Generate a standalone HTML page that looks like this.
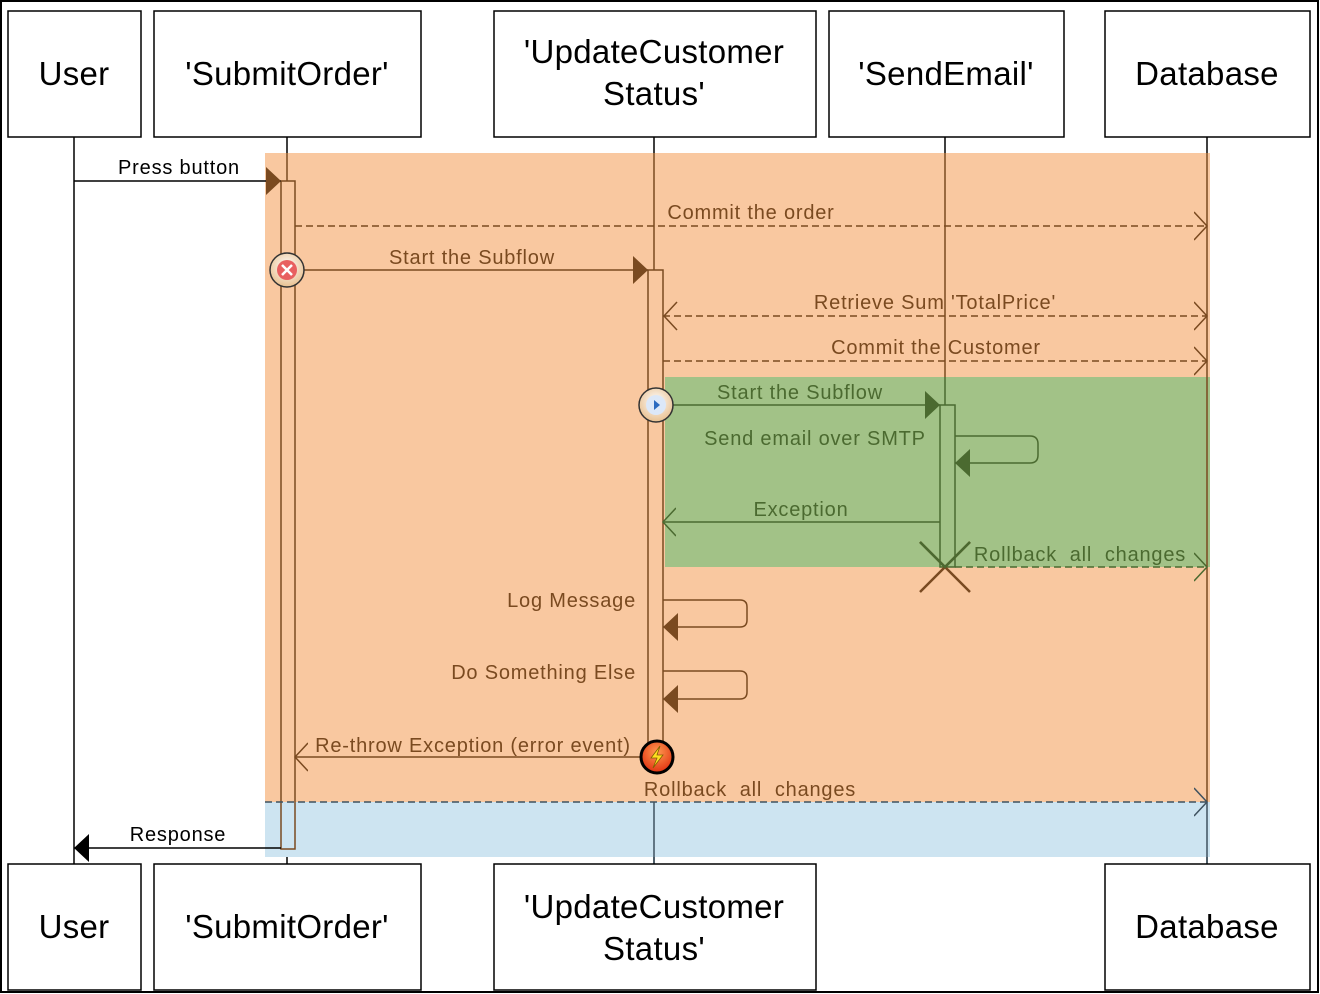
<!DOCTYPE html>
<html><head><meta charset="utf-8"><style>
html,body{margin:0;padding:0;background:#fff}
svg{display:block}
text{font-family:"Liberation Sans",sans-serif}
</style></head><body>
<svg width="1320" height="994" viewBox="0 0 1320 994" xmlns="http://www.w3.org/2000/svg">
<defs>
<marker id="fb" markerWidth="15" markerHeight="28" refX="15" refY="14" orient="auto" markerUnits="userSpaceOnUse"><path d="M0,0 L15,14 L0,28 Z" fill="#7a4a20"/></marker>
<marker id="fg" markerWidth="15" markerHeight="28" refX="15" refY="14" orient="auto" markerUnits="userSpaceOnUse"><path d="M0,0 L15,14 L0,28 Z" fill="#4b6a30"/></marker>
<marker id="fk" markerWidth="15" markerHeight="28" refX="15" refY="14" orient="auto" markerUnits="userSpaceOnUse"><path d="M0,0 L15,14 L0,28 Z" fill="#000"/></marker>
<marker id="ob" markerWidth="14" markerHeight="30" refX="13" refY="15" orient="auto" markerUnits="userSpaceOnUse"><path d="M0,1 L13,15 L0,29" fill="none" stroke="#7a4a20" stroke-width="1.5"/></marker>
<marker id="og" markerWidth="14" markerHeight="30" refX="13" refY="15" orient="auto" markerUnits="userSpaceOnUse"><path d="M0,1 L13,15 L0,29" fill="none" stroke="#4b6a30" stroke-width="1.5"/></marker>
<marker id="os" markerWidth="14" markerHeight="30" refX="13" refY="15" orient="auto" markerUnits="userSpaceOnUse"><path d="M0,1 L13,15 L0,29" fill="none" stroke="#3f5260" stroke-width="1.5"/></marker>
<radialGradient id="ic" cx="50%" cy="40%" r="60%"><stop offset="0" stop-color="#fff"/><stop offset="1" stop-color="#e8c090"/></radialGradient>
<radialGradient id="lr" cx="50%" cy="35%" r="65%"><stop offset="0" stop-color="#ff9a50"/><stop offset="1" stop-color="#e03010"/></radialGradient>
</defs>
<rect x="1" y="1" width="1317" height="991" fill="#fff" stroke="#000" stroke-width="2"/>
<g stroke="#000" stroke-width="1.5">
<line x1="74" y1="137" x2="74" y2="864"/>
<line x1="287" y1="137" x2="287" y2="864"/>
<line x1="654" y1="137" x2="654" y2="864"/>
<line x1="945" y1="137" x2="945" y2="567"/>
<line x1="1207" y1="137" x2="1207" y2="864"/>
</g>
<rect x="265" y="153" width="945" height="649" fill="#f9c8a0"/>
<rect x="265" y="802" width="945" height="55" fill="#cde4f1"/>
<rect x="665" y="377" width="545" height="190" fill="#a2c287"/>
<g stroke="#7a4a20" stroke-width="1.5">
<line x1="287" y1="153" x2="287" y2="181"/>
<line x1="654" y1="153" x2="654" y2="270"/>
<line x1="945" y1="153" x2="945" y2="377"/>
<line x1="1207" y1="153" x2="1207" y2="802"/>
</g>
<g stroke="#4b6a30" stroke-width="1.5"><line x1="945" y1="377" x2="945" y2="405"/></g>
<g stroke="#3f5260" stroke-width="1.5"><line x1="654" y1="802" x2="654" y2="864"/><line x1="1207" y1="802" x2="1207" y2="864"/></g>
<rect x="281" y="181" width="14" height="668" fill="none" stroke="#7a4a20" stroke-width="1.5"/>
<rect x="648" y="270" width="15" height="475" fill="none" stroke="#7a4a20" stroke-width="1.5"/>
<rect x="940" y="405" width="15" height="162" fill="none" stroke="#4b6a30" stroke-width="1.5"/>
<line x1="74" y1="181" x2="281" y2="181" stroke="#000" stroke-width="1.5" marker-end="url(#fb)"/>
<line x1="295" y1="226" x2="1207" y2="226" stroke="#7a4a20" stroke-width="1.5" stroke-dasharray="7,4" marker-end="url(#ob)"/>
<line x1="287" y1="270" x2="648" y2="270" stroke="#7a4a20" stroke-width="1.5" marker-end="url(#fb)"/>
<line x1="663" y1="316" x2="1207" y2="316" stroke="#7a4a20" stroke-width="1.5" stroke-dasharray="7,4" marker-end="url(#ob)"/>
<path d="M677,302 L664,316 L677,330" fill="none" stroke="#7a4a20" stroke-width="1.5"/>
<line x1="663" y1="361" x2="1207" y2="361" stroke="#7a4a20" stroke-width="1.5" stroke-dasharray="7,4" marker-end="url(#ob)"/>
<line x1="656" y1="405" x2="940" y2="405" stroke="#4b6a30" stroke-width="1.5" marker-end="url(#fg)"/>
<path d="M955,436 H1030 Q1038,436 1038,444 V455 Q1038,463 1030,463 H955" fill="none" stroke="#4b6a30" stroke-width="1.5" marker-end="url(#fg)"/>
<line x1="940" y1="522" x2="663" y2="522" stroke="#4b6a30" stroke-width="1.5" marker-end="url(#og)"/>
<line x1="955" y1="567" x2="1207" y2="567" stroke="#4b6a30" stroke-width="1.5" stroke-dasharray="7,4" marker-end="url(#og)"/>
<path d="M920,542 L970,592 M970,542 L920,592" stroke="#7a4a20" stroke-width="2.5"/>
<path d="M920,542 L945,567 L970,542" stroke="#4b6a30" stroke-width="2.5" fill="none"/>
<path d="M663,600 H740 Q747,600 747,607 V620 Q747,627 740,627 H663" fill="none" stroke="#7a4a20" stroke-width="1.5" marker-end="url(#fb)"/>
<path d="M663,671 H740 Q747,671 747,678 V692 Q747,699 740,699 H663" fill="none" stroke="#7a4a20" stroke-width="1.5" marker-end="url(#fb)"/>
<line x1="648" y1="757" x2="295" y2="757" stroke="#7a4a20" stroke-width="1.5" marker-end="url(#ob)"/>
<line x1="265" y1="802" x2="1207" y2="802" stroke="#3f5260" stroke-width="1.5" stroke-dasharray="7,4" marker-end="url(#os)"/>
<line x1="281" y1="848" x2="74" y2="848" stroke="#000" stroke-width="1.5" marker-end="url(#fk)"/>
<circle cx="287" cy="270" r="17" fill="url(#ic)" stroke="#333" stroke-width="1.5"/>
<circle cx="287" cy="270" r="10" fill="#e86060"/>
<path d="M282,265 L292,275 M292,265 L282,275" stroke="#fff" stroke-width="2.5"/>
<circle cx="656" cy="405" r="17" fill="url(#ic)" stroke="#333" stroke-width="1.5"/>
<circle cx="656" cy="405" r="10" fill="#dce8f8"/>
<path d="M654,400 L660,405 L654,410 Z" fill="#2a6ac0"/>
<circle cx="657" cy="757" r="16" fill="url(#lr)" stroke="#000" stroke-width="3"/>
<path d="M660,746 L651,758 L657,758 L653,768 L663,755 L657,755 Z" fill="#ffe020" stroke="#806000" stroke-width="0.8"/>
<g font-size="20" letter-spacing="0.8" text-anchor="middle" fill="#7a4a20">
<text x="179" y="174" fill="#000">Press button</text>
<text x="751" y="219">Commit the order</text>
<text x="472" y="264">Start the Subflow</text>
<text x="935" y="309">Retrieve Sum 'TotalPrice'</text>
<text x="936" y="354">Commit the Customer</text>
<text x="800" y="399" fill="#4b6a30">Start the Subflow</text>
<text x="815" y="445" fill="#4b6a30">Send email over SMTP</text>
<text x="801" y="516" fill="#4b6a30">Exception</text>
<text x="1080" y="561" fill="#4b6a30" xml:space="preserve">Rollback  all  changes</text>
<text x="636" y="607" text-anchor="end">Log Message</text>
<text x="636" y="679" text-anchor="end">Do Something Else</text>
<text x="473" y="752">Re-throw Exception (error event)</text>
<text x="750" y="796" xml:space="preserve">Rollback  all  changes</text>
<text x="178" y="841" fill="#000">Response</text>
</g>
<g fill="#fff" stroke="#000" stroke-width="1.5">
<rect x="8" y="11" width="133" height="126"/>
<rect x="154" y="11" width="267" height="126"/>
<rect x="494" y="11" width="322" height="126"/>
<rect x="829" y="11" width="235" height="126"/>
<rect x="1105" y="11" width="205" height="126"/>
<rect x="8" y="864" width="133" height="126"/>
<rect x="154" y="864" width="267" height="126"/>
<rect x="494" y="864" width="322" height="126"/>
<rect x="1105" y="864" width="205" height="126"/>
</g>
<g font-size="33" letter-spacing="0.3" text-anchor="middle" fill="#000">
<text x="74" y="85">User</text>
<text x="287" y="85">'SubmitOrder'</text>
<text x="654" y="63">'UpdateCustomer</text>
<text x="654" y="105">Status'</text>
<text x="946" y="85">'SendEmail'</text>
<text x="1207" y="85">Database</text>
<text x="74" y="938">User</text>
<text x="287" y="938">'SubmitOrder'</text>
<text x="654" y="918">'UpdateCustomer</text>
<text x="654" y="960">Status'</text>
<text x="1207" y="938">Database</text>
</g>
</svg>
</body></html>
